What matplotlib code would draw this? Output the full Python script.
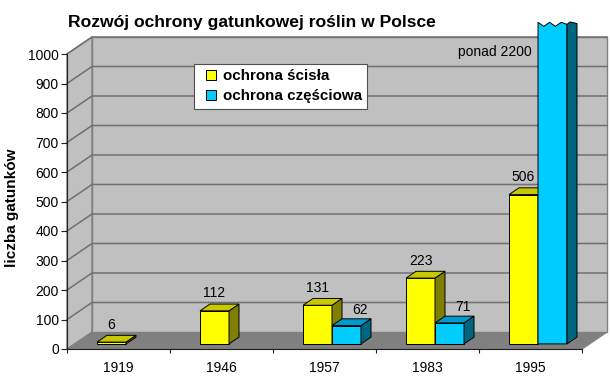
import matplotlib.pyplot as plt
from matplotlib.patches import Polygon
from matplotlib.lines import Line2D

plt.rcParams['font.family'] = ['Liberation Sans', 'DejaVu Sans']

# --- data ---------------------------------------------------------------
years = ["1919", "1946", "1957", "1983", "1995"]
scisla = [6, 112, 131, 223, 506]
czesciowa = [None, None, 62, 71, 2200]
czesciowa_labels = [None, None, "62", "71", "ponad 2200"]
yticks = list(range(0, 1001, 100))

# --- geometry (pseudo 3D, Excel style) ----------------------------------
W, H = 610, 385
fig = plt.figure(figsize=(W / 100, H / 100), dpi=100)
ax = fig.add_axes([67 / W, 36 / H, 515 / W, 295 / H])
ax.set_xlim(-0.5, len(years) - 0.5)
ax.set_ylim(0, 1000)
ax.patch.set_visible(False)

px_x = 515 / len(years)        # pixels per category
px_y = 295 / 1000              # pixels per unit
DX, DY = 25 / px_x, 17 / px_y  # full depth of the box
BAR_W = 29 / px_x
F0, F1 = 0.3, 0.7              # bars sit in this depth slice
CAP = 1090                     # broken bar is cut here
x0, x1 = -0.5, len(years) - 0.5


def poly(pts, fc, ec="black", lw=0.7, z=3):
    ax.add_patch(Polygon(pts, closed=True, fc=fc, ec=ec, lw=lw,
                         zorder=z, clip_on=False))


# walls + floor
poly([(x0, 0), (x1, 0), (x1 + DX, DY), (x0 + DX, DY)], "#808080", "#808080", 1, 0.5)
poly([(x0, 0), (x0 + DX, DY), (x0 + DX, 1000 + DY), (x0, 1000)], "#c0c0c0", "#808080", 1, 0.5)
poly([(x0 + DX, DY), (x1 + DX, DY), (x1 + DX, 1000 + DY), (x0 + DX, 1000 + DY)],
     "#c0c0c0", "#808080", 1, 0.5)
for v in yticks[1:]:
    ax.plot([x0, x0 + DX, x1 + DX], [v, v + DY, v + DY], color="#707070",
            lw=1.1, clip_on=False, zorder=0.6)


def bar3d(left, h, front, side, top, broken=False):
    ox, oy = F0 * DX, F0 * DY
    bx, by = (F1 - F0) * DX, (F1 - F0) * DY
    xa = left + ox
    xb = xa + BAR_W
    y0, y1 = oy, h + oy
    if not broken:
        poly([(xa, y0), (xb, y0), (xb, y1), (xa, y1)], front)
        poly([(xb, y0), (xb + bx, y0 + by), (xb + bx, y1 + by), (xb, y1)], side)
        poly([(xa, y1), (xb, y1), (xb + bx, y1 + by), (xa + bx, y1 + by)], top)
        return xa, y1
    # broken top (value goes off the scale)
    amp = 4 / px_y
    fr = [0, 0.2, 0.4, 0.6, 0.8, 1.0]
    dz = [0, -amp, 0, -amp, 0, -amp * 0.5]
    zig = [(xa + f * BAR_W, y1 + d) for f, d in zip(fr, dz)]
    poly([(xa, y0), (xb, y0)] + zig[::-1], front)
    poly([(xb, y0), (xb + bx, y0 + by), (xb + bx, y1 - amp * 0.3),
          (xb + bx * 0.3, y1 + amp * 0.1), (xb, y1 - amp * 0.5)], side)
    return xa, y1


for i in range(len(years)):
    xa, ytop = bar3d(i - BAR_W, scisla[i], "#ffff00", "#808000", "#c8c800")
    ax.annotate(str(scisla[i]), xy=(xa + BAR_W / 2, ytop), xytext=(0, 12.5),
                textcoords="offset points", ha="center", va="center",
                fontsize=10, zorder=10)
    if czesciowa[i] is None:
        continue
    broken = czesciowa[i] > CAP
    xa, ytop = bar3d(i, min(czesciowa[i], CAP), "#00ccff", "#006680", "#0099cc", broken)
    if broken:
        ax.annotate(czesciowa_labels[i], xy=(xa, ytop), xytext=(-4.5, -21),
                    textcoords="offset points", ha="right", va="center",
                    fontsize=10, zorder=10, annotation_clip=False)
    else:
        ax.annotate(czesciowa_labels[i], xy=(xa + BAR_W / 2, ytop), xytext=(9.5, 11.5),
                    textcoords="offset points", ha="center", va="center",
                    fontsize=10, zorder=10)

# --- axes -----------------------------------------------------------------
for s in ("top", "right"):
    ax.spines[s].set_visible(False)
for s in ("left", "bottom"):
    ax.spines[s].set_color("#202020")
    ax.spines[s].set_linewidth(0.8)

ax.set_yticks(yticks)
ax.tick_params(axis="y", direction="out", length=4.3, width=0.8, pad=1.5,
               labelsize=10, color="#202020")
ax.set_xticks([i - 0.5 for i in range(len(years) + 1)])
ax.set_xticklabels([])
ax.set_xticks(range(len(years)), minor=True)
ax.set_xticklabels(years, minor=True)
ax.tick_params(axis="x", which="major", direction="out", length=3, width=0.8,
               color="#202020")
ax.tick_params(axis="x", which="minor", length=0, pad=9, labelsize=10)

ax.set_ylabel("liczba gatunków", fontsize=11, fontweight="bold")
ax.yaxis.set_label_coords((19 - 67) / 515, (349 - 208) / 295)

fig.text(252 / W, 1 - 22 / H, "Rozwój ochrony gatunkowej roślin w Polsce",
         ha="center", va="center", fontsize=12.6, fontweight="bold")

handles = [Line2D([], [], ls="none", marker="s", markersize=6.5,
                  mfc="#ffff00", mec="black", mew=0.7),
           Line2D([], [], ls="none", marker="s", markersize=6.5,
                  mfc="#00ccff", mec="black", mew=0.7)]
leg = fig.legend(handles, ["ochrona ścisła", "ochrona częściowa"],
                 loc="upper left", bbox_to_anchor=(194 / W, 1 - 64 / H),
                 borderaxespad=0, fancybox=False, framealpha=1,
                 edgecolor="#505050", prop={"weight": "bold", "size": 10.9},
                 handlelength=1.5, handletextpad=0.05,
                 borderpad=0.35, labelspacing=0.4)
leg.get_frame().set_linewidth(0.8)
leg.set_zorder(20)

fig.savefig("out.png", dpi=100)
